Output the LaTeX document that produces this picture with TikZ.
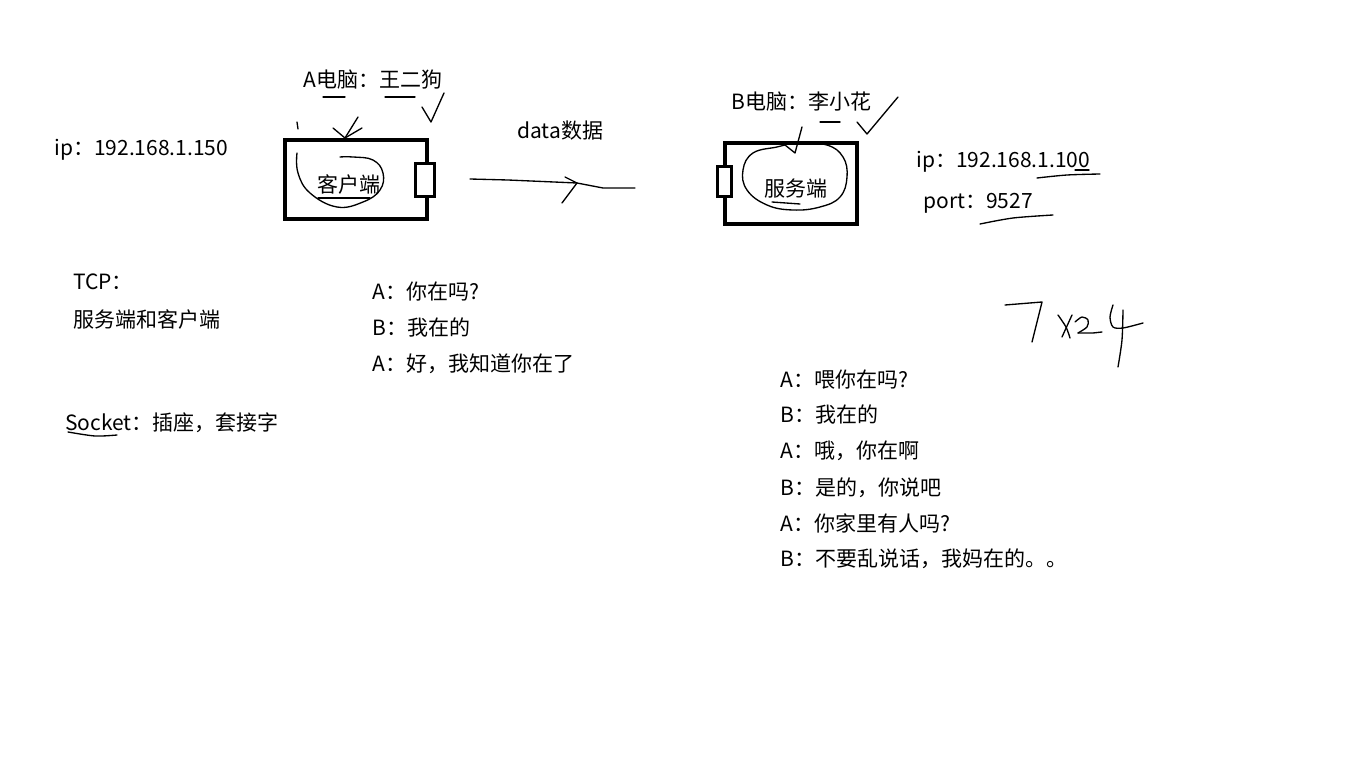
\documentclass[tikz,border=0pt]{standalone}
\usepackage{fontspec}
\setmainfont{Noto Sans CJK SC}
\usepackage{tikz}
\pgfdeclarelayer{edgelayer}
\pgfdeclarelayer{nodelayer}
\pgfsetlayers{edgelayer,nodelayer,main}
\tikzstyle{words}=[anchor=west, inner sep=0pt, yshift=-1.5pt, font=\fontsize{15.75}{18}\selectfont]
\tikzstyle{pen}=[draw=black, line width=1pt, line cap=round, line join=round]
\tikzstyle{box}=[draw=black, line width=3.2pt]
\tikzstyle{plug}=[draw=black, fill=white, line width=2.2pt]

\begin{document}
\begin{tikzpicture}[x=0.75pt, y=-0.75pt]
				\useasboundingbox (0,0) rectangle (1372,763);
				\begin{pgfonlayer}{nodelayer}
					\node [style=words] (1) at (54, 148) {ip：192.168.1.150};
					\node [style=words] (2) at (303, 78) {A电脑：王二狗};
					\node [style=words] (3) at (317, 182) {客户端};
					\node [style=words] (4) at (517, 129) {data数据};
					\node [style=words] (5) at (731, 100) {B电脑：李小花};
					\node [style=words] (6) at (764, 187) {服务端};
					\node [style=words] (7) at (916, 160) {ip：192.168.1.100};
					\node [style=words] (8) at (923, 201) {port：9527};
					\node [style=words] (9) at (73, 280) {TCP：};
					\node [style=words] (10) at (73, 317) {服务端和客户端};
					\node [style=words] (11) at (65, 421) {Socket：插座，套接字};
					\node [style=words] (12) at (372, 290) {A：你在吗?};
					\node [style=words] (13) at (372, 326) {B：我在的};
					\node [style=words] (14) at (372, 362) {A：好，我知道你在了};
					\node [style=words] (15) at (780, 378) {A：喂你在吗?};
					\node [style=words] (16) at (780, 413) {B：我在的};
					\node [style=words] (17) at (780, 449) {A：哦，你在啊};
					\node [style=words] (18) at (780, 486) {B：是的，你说吧};
					\node [style=words] (19) at (780, 521) {A：你家里有人吗?};
					\node [style=words] (20) at (780, 557) {B：不要乱说话，我妈在的。。};
				\end{pgfonlayer}
				\begin{pgfonlayer}{edgelayer}
					% the two computers
					\draw [style=box] (285, 140) rectangle (427, 219);
					\draw [style=plug] (415.5, 163.5) rectangle (434.5, 196.5);
					\draw [style=box] (725, 143) rectangle (857, 224);
					\draw [style=plug] (717.5, 166.5) rectangle (731.5, 196.5);
					% sending data
					\coordinate (21) at (470, 179);
					\coordinate (22) at (635, 188);
					\coordinate (23) at (577, 183);
					\draw [style=pen] (21) -- (508, 180) -- (23) -- (603, 188) -- (22);
					\draw [style=pen] (565, 177) -- (23) -- (562, 203);
				\end{pgfonlayer}
				% scribbles
				\draw [style=pen] (323, 97) -- (345, 97);
				\draw [style=pen] (385, 97) -- (415, 97);
				\draw [style=pen] (422, 107) -- (431, 122) -- (444, 93);
				\draw [style=pen] (358, 117) -- (345, 138);
				\draw [style=pen] (333, 128) -- (345, 138) -- (362, 128);
				\draw [style=pen] (297, 122) -- (298, 129);
				\draw [style=pen] plot [smooth, tension=0.7] coordinates {(297,153) (298,173) (310,193) (337,207) (363,202) (380,190) (383,173) (373,160) (353,157) (340,157)};
				\draw [style=pen] (318, 198) -- (370, 198);
				\draw [style=pen] (820, 122) -- (840, 122);
				\draw [style=pen] (857, 122) -- (867, 134) -- (898, 97);
				\draw [style=pen] (802, 127) -- (795, 153) -- (785, 145);
				\draw [style=pen] plot [smooth, tension=0.7] coordinates {(785,145) (777,147) (753,153) (743,170) (747,190) (767,205) (793,210) (820,207) (840,197) (847,177) (843,157) (827,145) (800,143)};
				\draw [style=pen] (772, 202) -- (800, 204);
				\draw [style=pen] (1075, 170) -- (1089, 170);
				\draw [style=pen] plot [smooth] coordinates {(1037,178) (1067,175) (1100,174)};
				\draw [style=pen] plot [smooth] coordinates {(980,224) (1013,218) (1053,215)};
				\draw [style=pen] plot [smooth] coordinates {(68,432) (95,436) (117,435)};
				% 7x24
				\draw [style=pen] (1005, 305) -- (1042, 302) -- (1032, 342);
				\draw [style=pen] plot [smooth] coordinates {(1058,315) (1066,327) (1070,338)};
				\draw [style=pen] (1072, 315) -- (1062, 337);
				\draw [style=pen] plot [smooth] coordinates {(1075,322) (1082,317) (1088,320) (1087,327) (1078,333)};
				\draw [style=pen] (1078, 333) -- (1093, 333) -- (1102, 332);
				\draw [style=pen] plot [smooth] coordinates {(1113,305) (1110,317) (1113,327) (1123,328) (1143,323)};
				\draw [style=pen] plot [smooth] coordinates {(1123,310) (1122,340) (1118,367)};
			\end{tikzpicture}
\end{document}
